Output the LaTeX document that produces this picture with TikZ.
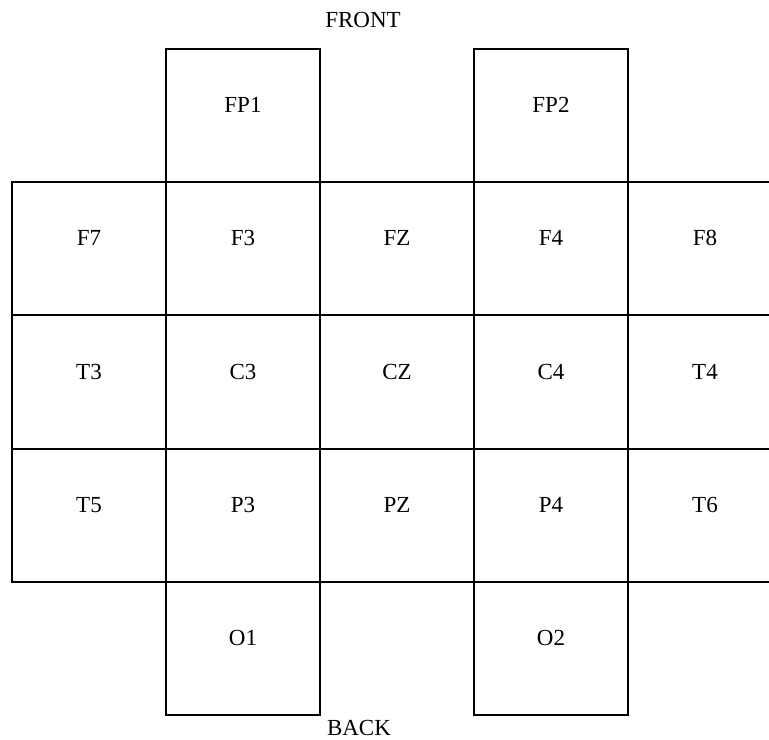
\documentclass[tikz,border=0pt]{standalone}
\usepackage{fontspec}
\setmainfont{Liberation Serif}
\usepackage{tikz}
\usetikzlibrary{positioning}
\definecolor{ink}{HTML}{000000}
\tikzset{
  cell/.style  ={draw=ink, line width=1.5pt,
                 minimum width=115.5pt, minimum height=99.9pt,
                 text height=12pt, text depth=16.4pt, inner sep=0pt,
                 align=center, font=\fontsize{17.25}{20}\selectfont},
  sidetag/.style={text=ink, inner sep=0pt, font=\fontsize{17.25}{20}\selectfont},
}
\begin{document}
\begin{tikzpicture}[x=0.75pt,y=-0.75pt]
        \useasboundingbox (0,0) rectangle (769,740);
        \clip (0,0) rectangle (769,740);
        % frontal pole row
        \node[cell] (fp1) at (243,115.6) {FP1};
        \node[cell] (fp2) at (551,115.6) {FP2};
        % frontal row
        \node[cell] (f7) at (89,248.8)  {F7};
        \node[cell] (f3) at (243,248.8) {F3};
        \node[cell] (fz) at (397,248.8) {FZ};
        \node[cell] (f4) at (551,248.8) {F4};
        \node[cell] (f8) at (705,248.8) {F8};
        % central row
        \node[cell] (t3) at (89,382.0)  {T3};
        \node[cell] (c3) at (243,382.0) {C3};
        \node[cell] (cz) at (397,382.0) {CZ};
        \node[cell] (c4) at (551,382.0) {C4};
        \node[cell] (t4) at (705,382.0) {T4};
        % parietal row
        \node[cell] (t5) at (89,515.2)  {T5};
        \node[cell] (p3) at (243,515.2) {P3};
        \node[cell] (pz) at (397,515.2) {PZ};
        \node[cell] (p4) at (551,515.2) {P4};
        \node[cell] (t6) at (705,515.2) {T6};
        % occipital row
        \node[cell] (o1) at (243,648.4) {O1};
        \node[cell] (o2) at (551,648.4) {O2};
        % orientation
        \node[sidetag] (front) at (363,19.5) {FRONT};
        \node[sidetag] (back)  at (359,728)  {BACK};
      \end{tikzpicture}
\end{document}
